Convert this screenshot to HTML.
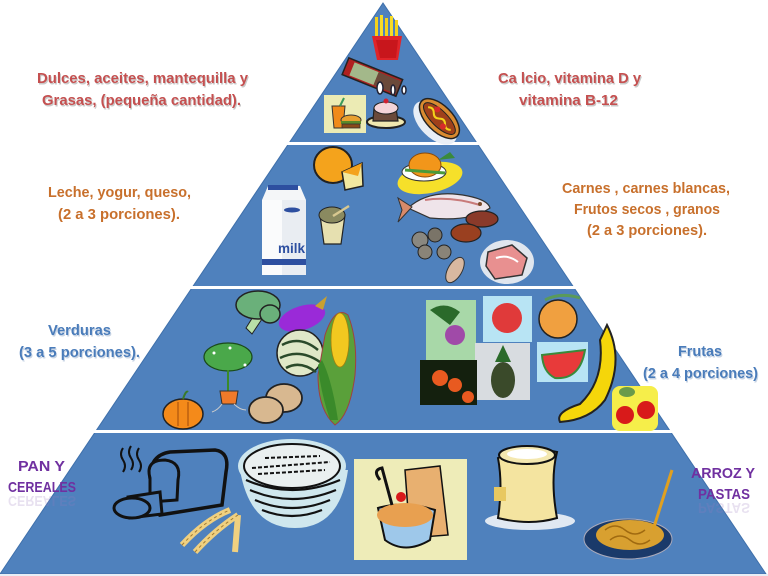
<!DOCTYPE html>
<html><head><meta charset="utf-8"><style>
html,body{margin:0;padding:0;background:#fff;width:768px;height:576px;overflow:hidden}
svg{display:block}
text{font-family:"Liberation Sans",sans-serif;font-weight:bold}
</style></head><body>
<svg width="768" height="576" viewBox="0 0 768 576" xmlns="http://www.w3.org/2000/svg">
<defs><clipPath id="c"><polygon points="383,0 770,576 -4,576"/></clipPath></defs>
<!-- pyramid -->
<polygon points="383,3 766,574 0,574" fill="#4f81bd"/>
<polygon points="383,3 766,574 0,574" fill="none" stroke="#3f70ab" stroke-width="1"/>
<g clip-path="url(#c)">
<rect x="0" y="142" width="768" height="3" fill="#fff"/>
<rect x="0" y="286" width="768" height="3" fill="#fff"/>
<rect x="0" y="430" width="768" height="3" fill="#fff"/>
<rect x="0" y="574" width="768" height="2" fill="#e8eef6"/>
</g>

<!-- ===== TOP TIER ===== -->
<g>
<rect x="375" y="17" width="3" height="22" fill="#f5d21a"/>
<rect x="380" y="15" width="3" height="24" fill="#f7dc28"/>
<rect x="385" y="18" width="3" height="21" fill="#f5d21a"/>
<rect x="390" y="16" width="3" height="23" fill="#f7dc28"/>
<rect x="395" y="20" width="3" height="19" fill="#f5d21a"/>
<path d="M372,36 L402,36 L398,60 L377,60 Z" fill="#e0242a"/>
<path d="M376,40 L398,40 L396,58 L380,58 Z" fill="#c8161c"/>
</g>
<g transform="rotate(22 372 78)">
<rect x="343" y="68" width="58" height="18" fill="#b02020"/>
<rect x="350" y="70" width="26" height="14" fill="#a3b88a"/>
<rect x="376" y="70" width="24" height="14" fill="#6b4a3a"/>
<rect x="343" y="68" width="58" height="18" fill="none" stroke="#222" stroke-width="1.5"/>
</g>
<ellipse cx="380" cy="88" rx="3" ry="6" fill="#fff" stroke="#223" stroke-width="1.5"/>
<ellipse cx="393" cy="90" rx="2" ry="5" fill="#fff" stroke="#223" stroke-width="1.5"/>
<ellipse cx="404" cy="90" rx="2" ry="4" fill="#fff" stroke="#223" stroke-width="1.5"/>
<rect x="324" y="95" width="42" height="38" fill="#ecebb4"/>
<path d="M332,106 L345,106 L343,128 L334,128 Z" fill="#f08a1a" stroke="#333" stroke-width="1"/>
<line x1="340" y1="106" x2="344" y2="98" stroke="#3a9a5a" stroke-width="2"/>
<ellipse cx="351" cy="120" rx="10" ry="5" fill="#e8a030" stroke="#333" stroke-width="1"/>
<rect x="341" y="121" width="20" height="3" fill="#5a8a2a"/>
<rect x="342" y="124" width="18" height="4" fill="#8a4a1a" stroke="#333" stroke-width="0.8"/>
<ellipse cx="386" cy="122" rx="19" ry="6" fill="#f0e8b0" stroke="#222" stroke-width="2"/>
<path d="M374,108 L396,108 L398,121 L373,121 Z" fill="#6b4a3a" stroke="#222" stroke-width="1.2"/>
<ellipse cx="386" cy="108" rx="12" ry="6" fill="#f4d4d8" stroke="#222" stroke-width="1"/>
<circle cx="386" cy="101" r="2.5" fill="#d02030"/>
<g transform="rotate(45 438 120)">
<ellipse cx="438" cy="124" rx="27" ry="15" fill="#e8eef6"/>
<ellipse cx="438" cy="118" rx="25" ry="13" fill="#d98a30" stroke="#222" stroke-width="1.5"/>
<ellipse cx="438" cy="118" rx="21" ry="8" fill="#a0401a" stroke="#222" stroke-width="1"/>
<path d="M422,118 q4,-4 8,0 t8,0 t8,0 t8,0" stroke="#f5d21a" stroke-width="2" fill="none"/>
<circle cx="430" cy="113" r="3" fill="#d82a2a"/>
<circle cx="446" cy="121" r="3" fill="#d82a2a"/>
</g>

<!-- ===== SECOND TIER ===== -->
<ellipse cx="333" cy="165" rx="19" ry="18" fill="#f4a31c" stroke="#222" stroke-width="2"/>
<path d="M342,172 L362,163 L363,186 L345,190 Z" fill="#f2e8a0" stroke="#222" stroke-width="1.5"/>
<path d="M342,172 L362,163 L358,176 Z" fill="#f4a31c"/>
<path d="M268,186 L300,186 L306,200 L306,275 L262,275 L262,200 Z" fill="#f4f6f8"/>
<path d="M262,200 L306,200 L306,275 L262,275 Z" fill="#e9edf2"/>
<rect x="268" y="185" width="30" height="5" fill="#2d4fa0"/>
<path d="M262,200 L282,200 L282,275 L262,275 Z" fill="#fafbfc"/>
<ellipse cx="292" cy="210" rx="8" ry="2.5" fill="#2d4fa0"/>
<text x="278" y="253" font-size="14" fill="#2d4fa0" textLength="27" lengthAdjust="spacingAndGlyphs">milk</text>
<rect x="262" y="259" width="44" height="6" fill="#2d4fa0"/>
<path d="M320,215 L345,215 L341,244 L324,244 Z" fill="#e6e0b0" stroke="#222" stroke-width="1.2"/>
<ellipse cx="332" cy="215" rx="13" ry="8" fill="#8a8a60" stroke="#222" stroke-width="1"/>
<line x1="333" y1="216" x2="349" y2="206" stroke="#d8c890" stroke-width="2.5"/>
<ellipse cx="430" cy="178" rx="33" ry="15" fill="#f6e02a" transform="rotate(-12 430 178)"/>
<ellipse cx="424" cy="172" rx="22" ry="9" fill="#fff" stroke="#333" stroke-width="1"/>
<ellipse cx="425" cy="165" rx="16" ry="12" fill="#f2961a" stroke="#8a4a0a" stroke-width="1"/>
<path d="M438,160 L450,152 L455,158 Z" fill="#3a8a3a"/>
<path d="M405,170 L445,173" stroke="#4a9a3a" stroke-width="3"/>
<path d="M408,208 Q430,188 468,196 Q488,200 490,208 Q470,222 430,218 Z" fill="#efe4ea" stroke="#333" stroke-width="1.2"/>
<path d="M412,207 L398,198 L402,210 L398,222 Z" fill="#d98a6a" stroke="#333" stroke-width="1"/>
<path d="M425,200 Q450,196 480,205" stroke="#c87a7a" stroke-width="2" fill="none"/>
<circle cx="480" cy="204" r="2" fill="#7a4a2a"/>
<ellipse cx="482" cy="219" rx="16" ry="8" fill="#8a3a2a" stroke="#222" stroke-width="1.2"/>
<ellipse cx="466" cy="233" rx="15" ry="9" fill="#9a4020" stroke="#222" stroke-width="1.2"/>
<circle cx="420" cy="240" r="8" fill="#8a8880" stroke="#222" stroke-width="1"/>
<circle cx="435" cy="235" r="7" fill="#7a7468" stroke="#222" stroke-width="1"/>
<circle cx="425" cy="252" r="7" fill="#8a8478" stroke="#222" stroke-width="1"/>
<circle cx="444" cy="252" r="7" fill="#8a8478" stroke="#222" stroke-width="1"/>
<ellipse cx="455" cy="270" rx="7" ry="14" fill="#d8b8a0" stroke="#333" stroke-width="1" transform="rotate(30 455 270)"/>
<ellipse cx="507" cy="262" rx="27" ry="22" fill="#e0e6ee"/>
<path d="M488,252 L512,245 L527,258 L522,275 L495,279 L486,266 Z" fill="#e89090" stroke="#333" stroke-width="1.5"/>
<path d="M496,258 Q508,254 518,262" stroke="#fff" stroke-width="2" fill="none"/>

<!-- ===== THIRD TIER ===== -->
<path d="M246,328 L256,312 L264,316 L252,334 Z" fill="#b8e0a8" stroke="#222" stroke-width="1"/>
<ellipse cx="258" cy="305" rx="22" ry="14" fill="#6ab07a" stroke="#222" stroke-width="1.5"/>
<ellipse cx="270" cy="314" rx="10" ry="9" fill="#6ab07a" stroke="#222" stroke-width="1.5"/>
<ellipse cx="302" cy="318" rx="24" ry="12" fill="#9a2ad8" transform="rotate(-18 302 318)"/>
<path d="M315,306 L327,296 L323,310 Z" fill="#c8a030"/>
<circle cx="300" cy="353" r="23" fill="#dfe8c8" stroke="#222" stroke-width="1.5"/>
<path d="M282,345 Q300,335 318,350 M280,358 Q300,348 320,362 M286,368 Q300,360 316,372" stroke="#2a4a2a" stroke-width="2.5" fill="none"/>
<path d="M325,335 Q335,305 348,315 Q358,340 355,375 Q350,415 335,425 Q318,410 318,375 Z" fill="#5aa03a" stroke="#a04040" stroke-width="1"/>
<ellipse cx="340" cy="340" rx="9" ry="27" fill="#f2c820" stroke="#a08010" stroke-width="0.8"/>
<path d="M322,360 Q332,380 338,420 L330,420 Q320,390 318,365 Z" fill="#3a8a2a"/>
<ellipse cx="228" cy="357" rx="24" ry="14" fill="#4aa84a" stroke="#1a4a1a" stroke-width="1.2"/>
<circle cx="214" cy="353" r="1.5" fill="#fff"/><circle cx="230" cy="348" r="1.5" fill="#fff"/><circle cx="245" cy="365" r="1.5" fill="#fff"/>
<path d="M228,370 L228,391" stroke="#3a8a2a" stroke-width="2"/>
<path d="M220,391 L238,391 L236,404 L222,404 Z" fill="#f07a2a" stroke="#333" stroke-width="1"/>
<path d="M222,404 Q218,410 212,412 M234,404 Q240,410 246,410" stroke="#ccc" stroke-width="1" fill="none"/>
<ellipse cx="183" cy="414" rx="20" ry="15" fill="#f48a1a" stroke="#222" stroke-width="1.5"/>
<path d="M178,402 L178,426 M188,402 L188,426" stroke="#a04a0a" stroke-width="1"/>
<path d="M183,399 Q186,390 188,392" stroke="#3a7a2a" stroke-width="2" fill="none"/>
<ellipse cx="284" cy="398" rx="18" ry="14" fill="#d8b890" stroke="#222" stroke-width="1.8"/>
<ellipse cx="266" cy="410" rx="17" ry="13" fill="#d8b890" stroke="#222" stroke-width="1.8"/>

<rect x="426" y="300" width="50" height="60" fill="#a8d8a8"/>
<circle cx="455" cy="335" r="10" fill="#a04aa8"/>
<path d="M430,310 Q445,300 460,312 L450,325 Z" fill="#2a6a2a"/>
<rect x="483" y="296" width="49" height="46" fill="#b8e4f4"/>
<circle cx="507" cy="318" r="15" fill="#e03a3a"/>
<circle cx="558" cy="319" r="19" fill="#f0a040" stroke="#222" stroke-width="1.5"/>
<path d="M545,300 Q560,292 580,298" stroke="#5a9a5a" stroke-width="3" fill="none"/>
<rect x="475" y="343" width="55" height="57" fill="#d8dce0"/>
<ellipse cx="503" cy="380" rx="12" ry="18" fill="#3a4a2a"/>
<path d="M495,362 L503,345 L511,362 Z" fill="#2a6a2a"/>
<rect x="420" y="360" width="57" height="45" fill="#14200e"/>
<circle cx="440" cy="378" r="8" fill="#e85a20"/><circle cx="455" cy="385" r="7" fill="#e85a20"/><circle cx="468" cy="397" r="6" fill="#e85a20"/>
<rect x="537" y="342" width="51" height="40" fill="#b8e4f4"/>
<path d="M542,355 L585,350 Q580,380 555,378 Q543,372 542,355 Z" fill="#e83a3a" stroke="#3a8a3a" stroke-width="2"/>
<path d="M607,325 Q625,360 605,400 Q590,420 560,422 Q555,412 580,404 Q605,380 600,340 Z" fill="#f5d60a" stroke="#222" stroke-width="2"/>
<rect x="612" y="386" width="46" height="45" rx="8" fill="#f6ee4a"/>
<circle cx="625" cy="415" r="9" fill="#d81a1a"/><circle cx="646" cy="410" r="9" fill="#d81a1a"/>
<ellipse cx="627" cy="392" rx="8" ry="5" fill="#6a9a4a"/>

<!-- ===== BOTTOM TIER ===== -->
<path d="M150,478 Q150,455 170,452 L215,450 Q230,452 226,472 L222,505 L160,515 Z" fill="#4f81bd" stroke="#111" stroke-width="3.5"/>
<path d="M150,478 Q145,460 165,460 Q182,462 178,480 L177,500 L150,502 Z" fill="#4f81bd" stroke="#111" stroke-width="3"/>
<path d="M128,497 L160,492 L162,514 L130,518 Z" fill="#4f81bd" stroke="#111" stroke-width="3"/>
<ellipse cx="132" cy="508" rx="18" ry="10" fill="#4f81bd" stroke="#111" stroke-width="3"/>
<path d="M123,448 q-4,6 0,12 t0,12 M131,446 q-4,6 0,12 t0,12 M139,448 q-4,6 0,12 t0,12" stroke="#111" stroke-width="2" fill="none"/>
<path d="M182,545 Q205,520 230,510 M195,552 Q215,530 238,515 M238,515 L235,552" stroke="#f0d080" stroke-width="6" fill="none"/>
<path d="M182,545 Q205,520 230,510 M195,552 Q215,530 238,515" stroke="#a07a30" stroke-width="1" fill="none" stroke-dasharray="3,3"/>
<ellipse cx="292" cy="466" rx="54" ry="27" fill="#cfe7ee"/>
<path d="M240,470 Q250,528 295,528 Q340,528 348,470 Z" fill="#cfe7ee"/>
<ellipse cx="292" cy="466" rx="48" ry="22" fill="#eaf0f0" stroke="#111" stroke-width="2"/>
<path d="M252,468 L330,462 M258,474 L325,470 M265,458 L320,456" stroke="#111" stroke-width="2" stroke-dasharray="4,2"/>
<path d="M246,480 Q292,500 340,480 M250,490 Q292,508 336,490 M255,500 Q292,516 330,500 M262,510 Q292,522 322,510" stroke="#111" stroke-width="2.2" fill="none"/>
<rect x="354" y="459" width="113" height="101" fill="#eeecb8"/>
<path d="M405,470 L440,466 L448,535 L410,538 Z" fill="#e8b070" stroke="#111" stroke-width="1.5"/>
<path d="M378,508 Q405,500 435,510 L430,540 Q405,555 385,540 Z" fill="#9ec8ea" stroke="#111" stroke-width="2"/>
<ellipse cx="405" cy="515" rx="28" ry="12" fill="#e8a050"/>
<circle cx="401" cy="497" r="5" fill="#d81a1a"/>
<path d="M380,480 Q372,470 382,468 L392,505" stroke="#111" stroke-width="3" fill="none"/>
<ellipse cx="530" cy="521" rx="45" ry="9" fill="#e0e8f2"/>
<path d="M498,458 Q530,446 557,452 Q550,480 557,518 Q530,526 498,518 Q503,485 498,458 Z" fill="#f4e4a0" stroke="#111" stroke-width="2"/>
<ellipse cx="527" cy="455" rx="28" ry="9" fill="#f4e8b0" stroke="#111" stroke-width="2"/>
<ellipse cx="527" cy="454" rx="20" ry="5" fill="#fff"/>
<rect x="494" y="487" width="12" height="14" fill="#e8c860"/>
<ellipse cx="628" cy="539" rx="44" ry="20" fill="#1a3a6a" stroke="#aab" stroke-width="1"/>
<ellipse cx="630" cy="535" rx="34" ry="15" fill="#d8a030"/>
<path d="M605,530 q10,-8 20,0 t20,0 M610,540 q10,-8 20,0 t20,0" stroke="#a06a10" stroke-width="1.5" fill="none"/>
<path d="M653,530 L672,470" stroke="#e0a020" stroke-width="3"/>

<!-- ===== LABELS ===== -->
<g font-size="15">
<g fill="#c9c9c9" transform="translate(1,1.5)">
<text x="37" y="83" textLength="211" lengthAdjust="spacingAndGlyphs">Dulces, aceites, mantequilla y</text>
<text x="42" y="105" textLength="199" lengthAdjust="spacingAndGlyphs">Grasas, (pequeña cantidad).</text>
<text x="498" y="83" textLength="143" lengthAdjust="spacingAndGlyphs">Ca lcio, vitamina D y</text>
<text x="519" y="105" textLength="99" lengthAdjust="spacingAndGlyphs">vitamina B-12</text>
</g>
<g fill="#c55050">
<text x="37" y="83" textLength="211" lengthAdjust="spacingAndGlyphs">Dulces, aceites, mantequilla y</text>
<text x="42" y="105" textLength="199" lengthAdjust="spacingAndGlyphs">Grasas, (pequeña cantidad).</text>
<text x="498" y="83" textLength="143" lengthAdjust="spacingAndGlyphs">Ca lcio, vitamina D y</text>
<text x="519" y="105" textLength="99" lengthAdjust="spacingAndGlyphs">vitamina B-12</text>
</g>
<g fill="#c8702c">
<text x="48" y="197" textLength="143" lengthAdjust="spacingAndGlyphs">Leche, yogur, queso,</text>
<text x="58" y="219" textLength="122" lengthAdjust="spacingAndGlyphs">(2 a 3 porciones).</text>
<text x="562" y="193" textLength="168" lengthAdjust="spacingAndGlyphs">Carnes , carnes blancas,</text>
<text x="574" y="214" textLength="146" lengthAdjust="spacingAndGlyphs">Frutos secos , granos</text>
<text x="587" y="235" textLength="120" lengthAdjust="spacingAndGlyphs">(2 a 3 porciones).</text>
</g>
<g fill="#c8d4e4" transform="translate(1,1.5)">
<text x="48" y="335" textLength="63" lengthAdjust="spacingAndGlyphs">Verduras</text>
<text x="19" y="357" textLength="121" lengthAdjust="spacingAndGlyphs">(3 a 5 porciones).</text>
<text x="678" y="356" textLength="44" lengthAdjust="spacingAndGlyphs">Frutas</text>
<text x="643" y="378" textLength="115" lengthAdjust="spacingAndGlyphs">(2 a 4 porciones)</text>
</g>
<g fill="#4a7cba">
<text x="48" y="335" textLength="63" lengthAdjust="spacingAndGlyphs">Verduras</text>
<text x="19" y="357" textLength="121" lengthAdjust="spacingAndGlyphs">(3 a 5 porciones).</text>
<text x="678" y="356" textLength="44" lengthAdjust="spacingAndGlyphs">Frutas</text>
<text x="643" y="378" textLength="115" lengthAdjust="spacingAndGlyphs">(2 a 4 porciones)</text>
</g>
<g fill="#9a7ac0" opacity="0.22" transform="translate(0,988) scale(1,-1)">
<text x="8" y="492" textLength="68" lengthAdjust="spacingAndGlyphs">CEREALES</text>
</g>
<g fill="#9a7ac0" opacity="0.22" transform="translate(0,1002) scale(1,-1)">
<text x="698" y="499" textLength="52" lengthAdjust="spacingAndGlyphs">PASTAS</text>
</g>
<g fill="#7030a0">
<text x="18" y="471" textLength="47" lengthAdjust="spacingAndGlyphs">PAN  Y</text>
<text x="8" y="492" textLength="68" lengthAdjust="spacingAndGlyphs">CEREALES</text>
<text x="691" y="478" textLength="64" lengthAdjust="spacingAndGlyphs">ARROZ  Y</text>
<text x="698" y="499" textLength="52" lengthAdjust="spacingAndGlyphs">PASTAS</text>
</g>
</g>
</svg>
</body></html>
